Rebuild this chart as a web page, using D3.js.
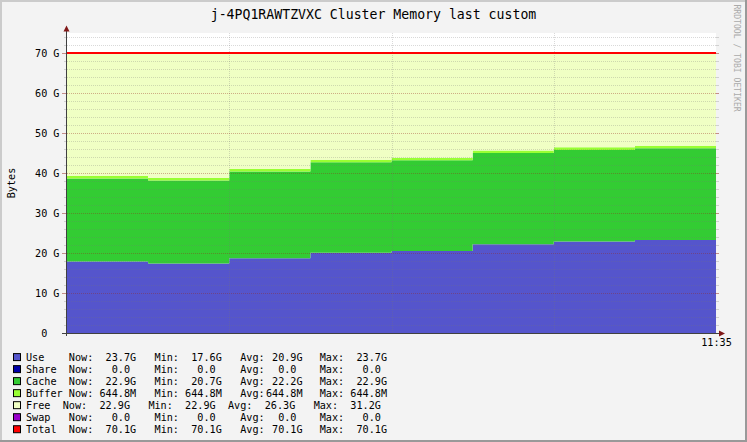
<!DOCTYPE html>
<html><head><meta charset="utf-8">
<script src="https://cdn.jsdelivr.net/npm/d3@7/dist/d3.min.js"></script>
<style>
html,body{margin:0;padding:0;background:#f3f3f3;}
svg{display:block;}
text{font-family:"DejaVu Sans Mono",monospace;fill:#000;}
</style>
</head><body>
<svg id="chart" width="747" height="442"></svg>
<script>
// ---- data (GB) ----
const steps   = [0, 1, 2, 3, 4, 5, 6, 7];
const useG    = [18.0, 17.5, 18.8, 20.2, 20.6, 22.3, 23.0, 23.4];
const shareG  = [0, 0, 0, 0, 0, 0, 0, 0];
const cacheG  = [20.75, 20.75, 21.7, 22.6, 22.7, 22.8, 22.9, 22.9];
const bufferG = [0.6448, 0.6448, 0.6448, 0.6448, 0.6448, 0.6448, 0.6448, 0.6448];
const freeG   = [30.7, 31.2, 29.0, 26.7, 26.2, 24.4, 23.6, 23.2];
const swapG   = [0, 0, 0, 0, 0, 0, 0, 0];
const totalG  = [70.1, 70.1, 70.1, 70.1, 70.1, 70.1, 70.1, 70.1];

const yTicks = [0, 10, 20, 30, 40, 50, 60, 70];
const xTickLabels = [{step: 8, label: "11:35"}];
const xGridSteps = [2, 4, 6];

const legendNames = ["Use", "Share", "Cache", "Buffer", "Free", "Swap", "Total"];
const legendNow = ["23.7G", "0.0 ", "22.9G", "644.8M", "22.9G", "0.0 ", "70.1G"];
const legendMin = ["17.6G", "0.0 ", "20.7G", "644.8M", "22.9G", "0.0 ", "70.1G"];
const legendAvg = ["20.9G", "0.0 ", "22.2G", "644.8M", "26.3G", "0.0 ", "70.1G"];
const legendMax = ["23.7G", "0.0 ", "22.9G", "644.8M", "31.2G", "0.0 ", "70.1G"];
const legendColors = ["#5555cc", "#0000aa", "#33cc33", "#99ff33", "#f0ffc4", "#9900cc", "#ff0000"];

const title = "j-4PQ1RAWTZVXC Cluster Memory last custom";

// ---- drawing ----
const svg = d3.select("#chart");
const W = 747, H = 442;
const cw = 6.12, fs = 10.17;

svg.append("rect").attr("width", W).attr("height", H).attr("fill", "#f3f3f3");
// shaded frame
svg.append("path").attr("d", `M0,${H} V0 H${W}`).attr("fill","none").attr("stroke","#cbcbcb").attr("stroke-width",4);
svg.append("path").attr("d", `M${W},0 V${H} H0`).attr("fill","none").attr("stroke","#999999").attr("stroke-width",4);
svg.append("rect").attr("x",2).attr("y",2).attr("width",W-4).attr("height",H-4).attr("fill","#f3f3f3");

const x = d3.scaleLinear().domain([0, 8]).range([67, 716]);
const y = d3.scaleLinear().domain([0, 75]).range([333.5, 33.5]);

// canvas
svg.append("rect").attr("x", 67).attr("y", 33).attr("width", 649).attr("height", 300).attr("fill", "#ffffff");

// stack
const keys = ["use", "share", "cache", "buffer", "free", "swap"];
const rows = steps.map(i => ({use: useG[i], share: shareG[i], cache: cacheG[i], buffer: bufferG[i], free: freeG[i], swap: swapG[i]}));
const rowsExt = rows.concat([rows[rows.length - 1]]); // end point for step drawing
const stacked = d3.stack().keys(keys)(rowsExt);
const area = d3.area().x((d, i) => x(i)).y0(d => y(d[0])).y1(d => y(d[1])).curve(d3.curveStepAfter);
const colorOf = {use: legendColors[0], share: legendColors[1], cache: legendColors[2], buffer: legendColors[3], free: legendColors[4], swap: legendColors[5]};
svg.append("g").selectAll("path").data(stacked).join("path")
  .attr("d", area).attr("fill", s => colorOf[s.key]).attr("stroke", "none");

// grid (drawn over data, rrdtool style)
const grid = svg.append("g");
const minorCol = "rgba(120,120,120,0.28)";
const minorTicks = d3.range(0, 76, 2).filter(v => v % 10 !== 0);
grid.selectAll("line.minor").data(minorTicks).join("line")
  .attr("x1", 67).attr("x2", 716).attr("y1", d => Math.round(y(d) - 0.5) + 0.5).attr("y2", d => Math.round(y(d) - 0.5) + 0.5)
  .attr("stroke", minorCol).attr("stroke-dasharray", "1,1");
grid.selectAll("line.minort").data(minorTicks).join("path")
  .attr("d", d => { const yy = Math.round(y(d) - 0.5) + 0.5; return `M64,${yy}H67M716,${yy}H719`; })
  .attr("stroke", minorCol);
grid.selectAll("line.vx").data(xGridSteps).join("line")
  .attr("x1", d => Math.round(x(d)) + 0.5).attr("x2", d => Math.round(x(d)) + 0.5).attr("y1", 33).attr("y2", 333)
  .attr("stroke", minorCol).attr("stroke-dasharray", "1,1");
grid.selectAll("line.major").data(yTicks.filter(v => v > 0)).join("line")
  .attr("x1", 67).attr("x2", 716).attr("y1", d => y(d)).attr("y2", d => y(d))
  .attr("stroke", "rgba(150,40,30,0.38)").attr("stroke-dasharray", "1,1");
grid.selectAll("path.majt").data(yTicks).join("path")
  .attr("d", d => `M62,${y(d)}H67M716,${y(d)}H719`)
  .attr("stroke", "rgba(150,40,30,0.5)");

// total line
const line = d3.line().x((d, i) => x(i)).y(d => y(d)).curve(d3.curveStepAfter);
svg.append("path").attr("d", line(totalG.concat([totalG[totalG.length - 1]])))
  .attr("fill", "none").attr("stroke", legendColors[6]).attr("stroke-width", 2);

// axes
svg.append("line").attr("x1", 66.5).attr("x2", 66.5).attr("y1", 336).attr("y2", 30).attr("stroke", "#404040");
svg.append("line").attr("x1", 62).attr("x2", 720).attr("y1", 333.5).attr("y2", 333.5).attr("stroke", "#404040");
svg.append("path").attr("d", "M66.5,25.5L63.5,31.5L69.5,31.5Z").attr("fill", "#801818");
svg.append("path").attr("d", "M725,333.5L719,330.5L719,336.5Z").attr("fill", "#801818");

// y labels
svg.append("g").selectAll("text").data(yTicks).join("text")
  .attr("x", d => { const s = d === 0 ? "0  " : d + " G"; return 59.5 - s.length * cw; })
  .attr("y", d => y(d) + 3.7)
  .attr("font-size", fs)
  .text(d => d === 0 ? "0" : d + " G");

// x label
svg.append("g").selectAll("text").data(xTickLabels).join("text")
  .attr("x", d => x(d.step) + 0.5).attr("y", 346).attr("text-anchor", "middle").attr("font-size", fs)
  .text(d => d.label);

// title
svg.append("text").attr("x", 373.5).attr("y", 18.5).attr("text-anchor", "middle").attr("font-size", 13.2).text(title);

// y axis title
svg.append("text").attr("transform", "translate(14.5,183) rotate(-90)").attr("text-anchor", "middle").attr("font-size", fs).text("Bytes");

// watermark
svg.append("text").attr("transform", "translate(734,4.5) rotate(90)").attr("font-size", 8.1).style("fill", "#aaaaaa").text("RRDTOOL / TOBI OETIKER");

// legend
const colsDefault = {now: 7, e1: 18, min: 21, e2: 32, avg: 35, e3: 45.2, max: 48, e4: 59};
const colsFree    = {now: 6, e1: 17, min: 20, e2: 31, avg: 33, e3: 44, max: 47, e4: 58};
const lg = svg.append("g");
legendNames.forEach((name, i) => {
  const by = 360.6 + i * 12.02;
  const c = name === "Free" ? colsFree : colsDefault;
  lg.append("rect").attr("x", 13.5).attr("y", by - 7).attr("width", 7).attr("height", 7)
    .attr("fill", legendColors[i]).attr("stroke", "#000").attr("stroke-width", 1);
  const put = (col, s) => lg.append("text").attr("x", 26 + col * cw).attr("y", by).attr("font-size", fs)
    .style("white-space", "pre").text(s);
  put(0, name);
  put(c.now, "Now:");
  put(c.e1 - legendNow[i].length, legendNow[i]);
  put(c.min, "Min:");
  put(c.e2 - legendMin[i].length, legendMin[i]);
  put(c.avg, "Avg:");
  put(c.e3 - legendAvg[i].length, legendAvg[i]);
  put(c.max, "Max:");
  put(c.e4 - legendMax[i].length, legendMax[i]);
});
</script>
</body></html>
